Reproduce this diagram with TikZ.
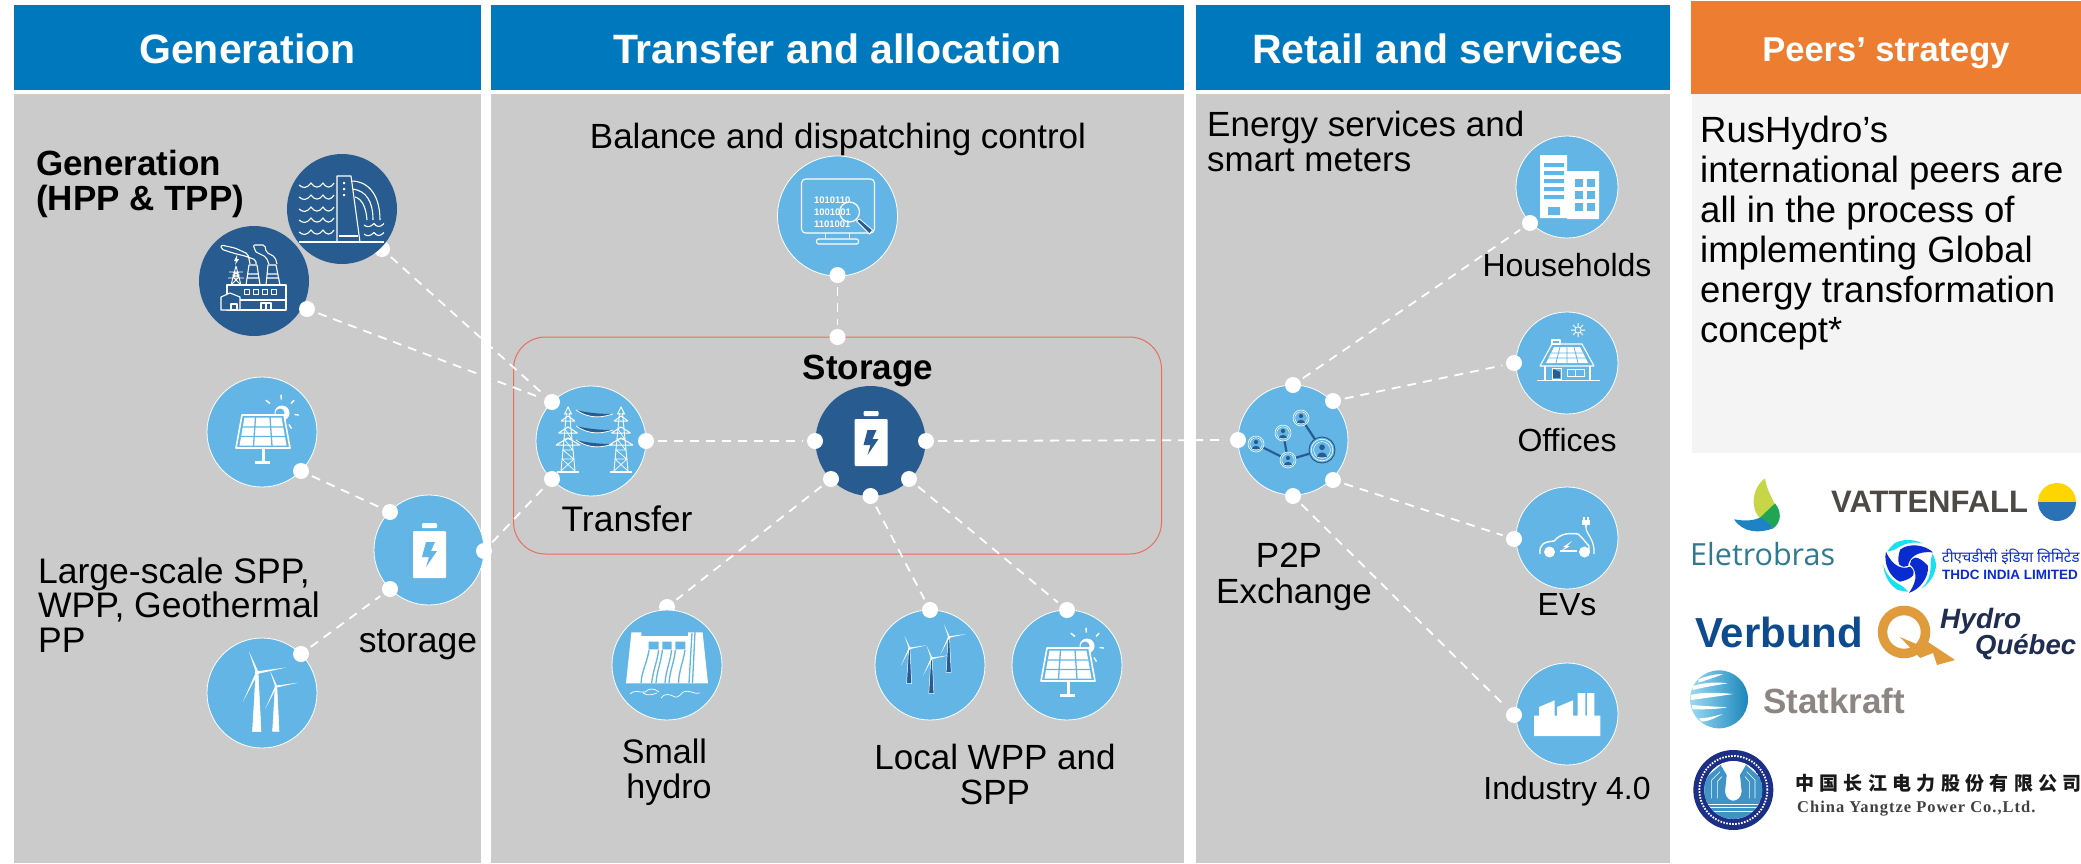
\documentclass[tikz,border=0pt]{standalone}
\usepackage{fontspec}
\setmainfont{Liberation Sans}
\newfontfamily\hindifont[Script=Devanagari]{Noto Sans}
\newfontfamily\cjkfont[LetterSpace=28]{Noto Sans CJK SC}
\newfontfamily\cyplatin[LetterSpace=6]{Liberation Serif}
\newfontfamily\opensans{Open Sans}
\usetikzlibrary{calc}
\definecolor{hdrblue}{HTML}{0078BD}
\definecolor{hdrorange}{HTML}{ED7D31}
\definecolor{panelgray}{HTML}{CBCBCB}
\definecolor{peerpanel}{HTML}{F4F4F4}
\definecolor{lb}{HTML}{62B5E5}
\definecolor{dk}{HTML}{285C91}
\definecolor{boxred}{HTML}{E4705E}
\definecolor{eleteal}{HTML}{2F7A8F}
\definecolor{leafy}{HTML}{C7D646}
\definecolor{leafg}{HTML}{1FA553}
\definecolor{leafb}{HTML}{1F82C4}
\definecolor{vatgray}{HTML}{4D4A46}
\definecolor{vaty}{HTML}{FFD500}
\definecolor{vatb}{HTML}{2A71B5}
\definecolor{thdcblue}{HTML}{0A2BD0}
\definecolor{thdccyan}{HTML}{19E0F0}
\definecolor{verblue}{HTML}{0E4B8E}
\definecolor{hqorange}{HTML}{E09B3D}
\definecolor{hqnavy}{HTML}{1F2D50}
\definecolor{statgray}{HTML}{8C8582}
\definecolor{statl}{HTML}{9ADAF2}
\definecolor{statd}{HTML}{1C86BC}
\definecolor{cypnavy}{HTML}{1C2F85}
\definecolor{cypblue}{HTML}{3F93C6}
\pgfdeclarelayer{under}
\pgfdeclarelayer{lines}
\pgfsetlayers{under,lines,main}
\newcommand\fsz[2]{\fontsize{#1}{#2}\selectfont}
\tikzset{
  hdr/.style={fill=hdrblue,text=white,font=\bfseries\fsz{41}{41},inner sep=0pt,minimum height=85pt,text height=32pt,text depth=0pt},
  body/.style={font=\fsz{35.5}{34.5},inner sep=0pt,text=black},
  smallbody/.style={font=\fsz{32}{34.5},inner sep=0pt,text=black},
  boldbody/.style={font=\bfseries\fsz{35}{34.5},inner sep=0pt,text=black},
  lightc/.style={circle,fill=lb,draw=white,line width=.8pt,inner sep=0pt,minimum size=#1},
  lightc/.default=110pt,
  darkc/.style={circle,fill=dk,inner sep=0pt,minimum size=110pt},
  dot/.style={circle,fill=white,inner sep=0pt,minimum size=16pt,outer sep=4pt},
  conn/.style={draw=white,line width=1.8pt,dash pattern=on 9pt off 7pt},
  icl/.style={draw=white,line width=1.1pt,line join=round},
  logo/.style={anchor=base west,inner sep=0pt},
  pics/solaricon/.style={code={
    \foreach \rx/\ry in {-12/-9.5,-.7/-13.5,9/-9.5,12.5/1.5,7/11.5}{\draw[white,line width=1.4pt] (20,-19)++(\rx,\ry) -- +(\rx*.35,\ry*.35);}
    \fill[white] (20,-19) circle (7.5pt);
    \fill[lb] (18,-19) circle (4.5pt);
    \draw[draw=white,line width=1.6pt,fill=lb,line join=round] (-20,-17)--(22,-17)--(28,16)--(-26,16)--cycle;
    \fill[white] (-17.5,-14.5)--(19.5,-14.5)--(24.5,13.5)--(-22.5,13.5)--cycle;
    \draw[lb,line width=1.3pt] (-19.5,-5)--(21.5,-5) (-21,4.5)--(23,4.5) (-6.5,-15)--(-8.5,14) (8,-15)--(10,14);
    \fill[white] (0,17) rectangle (2.5,30);
    \fill[white] (-7,29) rectangle (8,32);
  }},
  pics/batteryicon/.style={code={
    \fill[white,rounded corners=1pt] (-16,-19) rectangle (17,28);
    \fill[white,rounded corners=1pt] (-7,-27) rectangle (8,-22);
    \fill[#1] (-3,-8)--(6,-8)--(2,1)--(8,1)--(-3,17)--(0,7)--(-7,7)--cycle;
  }},
  pics/turbineicon/.style={code={
    \fill[#1,draw=white,line width=.5pt] (-4.5,59)--(4,59)--(1.2,2)--(-1.2,2)--cycle;
    \fill[white] (-1,0)--(-8,-21)--(1.2,-1.2)--cycle;
    \fill[white] (0,-1.2)--(29,-5)--(0,1.5)--cycle;
    \fill[white] (-1.2,0)--(-14,29)--(1,1)--cycle;
    \fill[white] (0,0) circle (2.2pt);
  }},
  pics/pylonicon/.style={code={
    \draw[white,line width=.9pt] (-1.5,-28)--(-7,30) (1.5,-28)--(7,30) (0,-34)--(-3.5,-27)--(3.5,-27)--cycle;
    \draw[white,line width=.7pt] (-6,18)--(5.8,18)--(-5,9)--(4.6,9)--(-3.9,-2)--(3.6,-2)--(-3,-12) (6,18)--(-5.8,18) (-7,30)--(6,18) (7,30)--(-6,18) (5,9)--(-4.6,9) (3.9,-2)--(-3.6,-2);
    \draw[white,line width=1pt] (-7,-20)--(7,-20)(-9.5,-8)--(9.5,-8) (-12,4)--(12,4) (-7,-20)--(0,-25)--(7,-20) (-9.5,-8)--(0,-14)--(9.5,-8) (-12,4)--(0,-3)--(12,4);
    \fill[white] (-11,30) rectangle (11,32);
  }},
  pics/personicon/.style={code={
    \draw[white,fill=lb,line width=.6pt] (0,0) circle (8pt);
    \draw[white,line width=.5pt] (0,0) circle (6.2pt);
    \fill[dk] (0,-2) circle (2.1pt);
    \fill[dk] (-4,5)..controls (-4,.8) and (4,.8)..(4,5)--cycle;
  }},
}
\begin{document}
\begin{tikzpicture}[x=1pt,y=-1pt]
\useasboundingbox (0,0) rectangle (2081,863);
\begin{pgfonlayer}{under}
  \fill[white] (0,0) rectangle (2081,863);
  \fill[panelgray] (14,94) rectangle (481,863);
  \fill[panelgray] (491,94) rectangle (1184,863);
  \fill[panelgray] (1196,94) rectangle (1670,863);
  \fill[peerpanel] (1692,94) rectangle (2081,453);
  \draw[boxred,line width=1pt,rounded corners=32pt] (513.5,337) rectangle (1161.5,554);
\end{pgfonlayer}
% headers
\node[hdr,minimum width=467pt] (h1) at (247.5,47.5) {Generation};
\node[hdr,minimum width=693pt] (h2) at (837.5,47.5) {Transfer and allocation};
\node[hdr,minimum width=474pt] (h3) at (1433,47.5) {\hspace*{10pt}Retail and services};
\node[hdr,fill=hdrorange,font=\bfseries\fsz{34.5}{34},minimum width=390pt,minimum height=93pt,text height=27pt] (h4) at (1886,47.5) {Peers’ strategy};
% dots partly hidden by their circles
\node[dot] (dhydro) at (382,249) {};
\node[dot] (dsmall) at (667,607) {};
% circles
\node[darkc] (tpp) at (254,281) {};
\node[darkc] (hydro) at (342,209) {};
\node[lightc] (sol1) at (262,432) {};
\node[lightc] (sto1) at (429,550) {};
\node[lightc] (win1) at (262,693) {};
\node[lightc=120pt] (bal) at (837.5,216) {};
\node[lightc] (tra) at (591,441) {};
\node[darkc] (sto2) at (870.5,441) {};
\node[lightc] (small) at (667,665) {};
\node[lightc] (win2) at (930,665) {};
\node[lightc] (sol2) at (1067,665) {};
\node[lightc] (p2p) at (1293,440) {};
\node[lightc=102pt] (hou) at (1567,187) {};
\node[lightc=102pt] (off) at (1567,363) {};
\node[lightc=102pt] (ev) at (1567,538) {};
\node[lightc=102pt] (ind) at (1567,714) {};
% dots
\node[dot] (dtpp) at (307,309) {};
\node[dot] (dsol1) at (301,471) {};
\node[dot] (dwin1) at (301,654) {};
\node[dot] (dsto1a) at (390,512) {};
\node[dot] (dsto1b) at (390,589) {};
\node[dot] (dsto1c) at (484,551) {};
\node[dot] (dbal) at (837.5,275) {};
\node[dot] (dtop) at (837.5,337) {};
\node[dot] (dtraa) at (552,402) {};
\node[dot] (dtrab) at (646,441) {};
\node[dot] (dtrac) at (552,479) {};
\node[dot] (dstoa) at (815,441) {};
\node[dot] (dstob) at (926,441) {};
\node[dot] (dstoc) at (831,479) {};
\node[dot] (dstod) at (870.5,496) {};
\node[dot] (dstoe) at (909,479) {};
\node[dot] (dwin2) at (930,610) {};
\node[dot] (dsol2) at (1067,610) {};
\node[dot] (dpa) at (1238,440) {};
\node[dot] (dpb) at (1293,385) {};
\node[dot] (dpc) at (1333,401) {};
\node[dot] (dpd) at (1333,480) {};
\node[dot] (dpe) at (1293,496) {};
\node[dot] (dhou) at (1530,223) {};
\node[dot] (doff) at (1514,363) {};
\node[dot] (dev) at (1514,539) {};
\node[dot] (dind) at (1514,715) {};
% connectors
\begin{pgfonlayer}{lines}
  \draw[conn] (dhydro) -- (dtraa);
  \draw[conn] (dtpp) -- (dtraa);
  \draw[conn] (dsol1) -- (dsto1a);
  \draw[conn] (dwin1) -- (dsto1b);
  \draw[conn] (dsto1c) -- (dtrac);
  \draw[conn] (dbal) -- (dtop);
  \draw[conn] (dtrab) -- (dstoa);
  \draw[conn] (dstob) -- (dpa);
  \draw[conn] (dstoc) -- (dsmall);
  \draw[conn] (dstod) -- (dwin2);
  \draw[conn] (dstoe) -- (dsol2);
  \draw[conn] (dpb) -- (dhou);
  \draw[conn] (dpc) -- (doff);
  \draw[conn] (dpd) -- (dev);
  \draw[conn] (dpe) -- (dind);
\end{pgfonlayer}
% texts
\node[boldbody,anchor=base west,align=left] (tgen) at (36,210) {Generation\\(HPP \& TPP)};
\node[body,anchor=base west,align=left] (tlarge) at (38,652) {Large-scale SPP,\\WPP, Geothermal\\PP};
\node[body,anchor=base] (tsto1) at (418,652) {storage};
\node[body,font=\fsz{35}{35},anchor=base] (tbal) at (838,148) {Balance and dispatching control};
\node[boldbody,anchor=base] (tsto2) at (868,379) {Storage};
\node[body,anchor=base] (ttra) at (627,531) {Transfer};
\node[body,font=\fsz{34}{35},anchor=base] (tsmall) at (664.5,763) {Small};
\node[body,font=\fsz{34}{35},anchor=base] (thydro) at (669,798) {hydro};
\node[body,font=\fsz{35}{34.5},anchor=base,align=center] (tlocal) at (995,804) {Local WPP and\\SPP};
\node[body,font=\fsz{35}{34.5},anchor=base west,align=left] (tenergy) at (1207,171) {Energy services and\\smart meters};
\node[smallbody,anchor=base] (thou) at (1567,276) {Households};
\node[smallbody,anchor=base] (toff) at (1567,451) {Offices};
\node[smallbody,anchor=base] (tev) at (1567,615) {EVs};
\node[smallbody,anchor=base] (tind) at (1567,799) {Industry 4.0};
\node[body,font=\fsz{35}{35},anchor=base] (tp2p) at (1289,567) {P2P};
\node[body,font=\fsz{35}{35},anchor=base] (texch) at (1294,603) {Exchange};
\node[inner sep=0pt,anchor=base west,align=left,font=\fsz{36.5}{40}] (tpeer) at (1700,342) {RusHydro’s\\international peers are\\all in the process of\\implementing Global\\energy transformation\\concept*};
% icons
\begin{scope}[shift={(hydro)}]
  \draw[icl] (-43,33)--(42,33);
  \draw[icl] (-5,33)--(-5,-33)--(9,-33)--(18,33);
  \draw[icl] (-3,27)--(16,27);
  \fill[white] (1,-27) rectangle (3,-25) (1,-21) rectangle (3,-19) (1,-15) rectangle (3,-13);
  \draw[icl] (9,-28) .. controls (28,-28) and (38,-12) .. (38,11);
  \draw[icl] (11,-20) .. controls (24,-18) and (31,-8) .. (31,11);
  \draw[icl] (13,-12) .. controls (20,-10) and (24,-2) .. (25,11);
  \foreach \yy in {-24,-12,0,11,23}{
    \draw[icl] (-43,\yy) .. controls (-39,\yy+3.5) and (-35,\yy+3.5) .. (-31,\yy-2) .. controls (-27,\yy+3.5) and (-23,\yy+3.5) .. (-19,\yy-2) .. controls (-15,\yy+3.5) and (-12,\yy+3.5) .. (-8,\yy-2);
  }
  \foreach \yy in {16,25}{
    \draw[icl] (22,\yy) .. controls (25,\yy+2.5) and (28,\yy+2.5) .. (32,\yy-1.5) .. controls (35,\yy+2.5) and (38,\yy+2.5) .. (42,\yy-1.5);
  }
\end{scope}
\begin{scope}[shift={(tpp)}]
  \draw[icl] (-27,4) rectangle (32,29);
  \draw[icl,fill=dk] (-33,29)--(-33,16)--(-24,12)--(-14,16)--(-14,29)--cycle;
  \draw[icl] (-23,23) rectangle (-17,29);
  \draw[icl] (-14,19)--(32,19);
  \draw[icl] (7,22) rectangle (17,29) (12,22)--(12,29);
  \foreach \xx in {-7,2,11,20}{\draw[icl] (\xx-2.2,8.8) rectangle (\xx+2.2,13.2);}
  \draw[icl] (-8,4)--(-5,-16)--(3,-16)--(6,4) (-6.5,-7)--(4.5,-7) (-7,-3)--(5,-3);
  \draw[icl] (12,4)--(14,-16)--(22,-16)--(26,4) (13,-7)--(24,-7) (12.5,-3)--(25,-3);
  \draw[icl,rounded corners=2pt] (-4,-17)--(-6,-27)--(-19,-33)--(-33,-36)--(-33,-32)--(-21,-28)--(-9,-25)--(2,-21)--(2,-17);
  \draw[icl,rounded corners=2pt] (2,-29)--(-1,-36)--(11,-36)--(12,-29)--(21,-24)--(23,-17) (15,-17)--(12,-24)--(2,-29);
  \draw[white,line width=.9pt] (-18,-15)--(-23,4) (-18,-15)--(-13,4) (-23,4)--(-15,-4)--(-21,-6)--(-15,-9) (-13,4)--(-21,-4)--(-15,-6)--(-21,-9) (-25,-9)--(-11,-9) (-26,-3)--(-10,-3);
  \fill[white] (-17,-26)--(-20,-20)--(-18,-20)--(-19,-16)--(-15,-22)--(-17,-22)--cycle;
\end{scope}
\pic at (sol1) {solaricon};
\pic at (sol2) {solaricon};
\pic at (sto1) {batteryicon=lb};
\pic at ($(sto2)+(0,-3)$) {batteryicon=dk};
\pic at ($(win1)+(-5,-20.5)$) {turbineicon=white};
\pic[scale=.76] at ($(win1)+(14,-6.5)$) {turbineicon=white};
\pic[scale=.6] at ($(win2)+(-20.7,-16.7)$) {turbineicon=dk};
\pic[scale=.6] at ($(win2)+(1.5,-6.7)$) {turbineicon=dk};
\pic[scale=.6] at ($(win2)+(18.8,-28)$) {turbineicon=dk};
% monitor
\begin{scope}[shift={(bal)}]
  \draw[icl,rounded corners=4pt] (-36,-37) rectangle (37,17);
  \draw[icl] (-12,17)--(-12,22) (12,17)--(12,22);
  \draw[icl,rounded corners=2pt] (-21,23) rectangle (21,28);
  \node[font=\bfseries\fsz{9.5}{12},text=white,inner sep=0pt,anchor=center,align=left] (tbin) at (-5,-4) {1010110\\1001001\\1101001};
  \draw[white,line width=1.2pt] (12,-4) circle (10pt);
  \draw[white,fill=dk,line width=.8pt] (19,5)--(22,3)--(35,14)--(32,18)--cycle;
\end{scope}
% transfer
\begin{scope}[shift={(tra)}]
  \foreach \yy in {0,16,30}{
    \fill[dk] (-15,\yy-31) .. controls (-3,\yy-28) and (10,\yy-27) .. (22,\yy-27) .. controls (12,\yy-24) and (0,\yy-21) .. (-15,\yy-31);
    \draw[white,line width=.8pt] (22,\yy-27) .. controls (12,\yy-24) and (0,\yy-21) .. (-15,\yy-31);
  }
\end{scope}
\pic at ($(tra)+(-23,0)$) {pylonicon};
\pic at ($(tra)+(30,0)$) {pylonicon};
% small hydro
\begin{scope}[shift={(small)}]
  \fill[white] (-35.6,-32.7)--(-25.6,-32.7)--(-25.6,-29)--(21,-29)--(21,-32.7)--(35.6,-32.7)--(41,18.3)--(-41,18.3)--cycle;
  \fill[lb] (-18.4,-23.3) rectangle (-8.4,-15.7) (-4.6,-23.3) rectangle (4.6,-15.7) (8.4,-23.3) rectangle (18.4,-15.7);
  \draw[lb,line width=1.3pt] (-18,-15) .. controls (-20,-2) and (-25,5) .. (-26,18) (-8.4,-15) .. controls (-10,-2) and (-14,5) .. (-15.3,18) (-4.6,-15) .. controls (-6,-2) and (-10,5) .. (-11,18) (4.6,-15) .. controls (3,-2) and (-1,5) .. (-2,18) (8.4,-15) .. controls (7,-2) and (3,5) .. (2,18) (18,-15) .. controls (16,-2) and (12,5) .. (11.5,18) (25,-32) -- (22,18) (28,-33) -- (25.5,18);
  \draw[white,line width=.7pt] (-37,29) .. controls (-32,24) and (-27,28) .. (-22,27) .. controls (-18,23) and (-13,23) .. (-8,27) (-6,33) .. controls (-3,28) and (3,29) .. (8,32) .. controls (12,33) and (13,29) .. (16,27) .. controls (22,24) and (28,30) .. (33,28) (-24,28) .. controls (-20,31) and (-15,30) .. (-10,28);
\end{scope}
% people
\begin{scope}[shift={(p2p)}]
  \draw[dk,line width=2.2pt] (-37,4)--(-5,20) (-10,-7)--(-5,20) (-5,20)--(29,10) (8,-22)--(29,10);
  \pic at (-37,4) {personicon};
  \pic at (-10,-7) {personicon};
  \pic at (8,-22) {personicon};
  \pic at (-5,20) {personicon};
  \draw[dk,line width=1pt,fill=lb] (29,10) circle (13pt);
  \pic[scale=1.35] at (29,10) {personicon};
\end{scope}
% building
\begin{scope}[shift={(hou)}]
  \fill[white] (-27,-32) rectangle (0,31) (0,-16) rectangle (32,32);
  \fill[lb] (-23,-24) rectangle (-3,-20) (-23,-16) rectangle (-3,-12) (-23,-8) rectangle (-3,-4) (-23,0) rectangle (-3,4) (-23,8) rectangle (-3,12) (-19,20) rectangle (-7,28);
  \foreach \xx in {8,20}{\foreach \yy in {-8,4,16}{\fill[lb] (\xx,\yy) rectangle (\xx+8,\yy+8);}}
\end{scope}
% house
\begin{scope}[shift={(off)}]
  \draw[icl] (-15,-23) rectangle (-7,-19);
  \draw[icl,line join=round] (-15,-19)--(15,-19)--(27,3)--(-27,3)--cycle;
  \fill[white] (-13,-16)--(13,-16)--(21,0)--(-21,0)--cycle;
  \draw[lb,line width=.8pt] (-16,-10)--(16,-10) (-19,-5)--(19,-5) (-7,-16)--(-11,0) (0,-16)--(0,0) (7,-16)--(11,0);
  \draw[icl] (-22,3)--(-22,17) (23,3)--(23,17) (-30,17.5)--(33,17.5);
  \draw[icl,line width=.8pt] (-15,5) rectangle (-6,16) (0,6) rectangle (17,13) (8.5,6)--(8.5,13);
  \fill[dk] (-14,6)--(-7,9)--(-7,15)--(-14,15)--cycle;
  \draw[white,line width=1pt] (4,-33)--(18,-33) (11,-40)--(11,-26) (6,-38)--(16,-28) (16,-38)--(6,-28);
  \fill[lb] (11,-33) circle (3pt);
  \draw[white,line width=.7pt] (11,-33) circle (3pt);
\end{scope}
% EV
\begin{scope}[shift={(ev)}]
  \draw[icl,line width=1.4pt] (-27,16) .. controls (-28,6) and (-23,4) .. (-13,3) .. controls (-6,-5) and (2,-5) .. (11,-4) .. controls (16,0) and (18,4) .. (22,8) -- (22,15);
  \draw[white,line width=1.2pt] (-7,13)--(10,13);
  \fill[white] (-17.5,14) circle (5.5pt) (17.5,14) circle (5.5pt);
  \fill[white] (5,3)--(-4,9)--(-1,9)--(-7,14)--(3,8)--(0,8)--cycle;
  \draw[icl,line width=1.2pt] (19,-12) .. controls (18,-4) and (28,0) .. (27,16);
  \fill[white] (15,-18) rectangle (23,-13);
  \draw[white,line width=1.2pt] (17,-18)--(17,-21) (21,-18)--(21,-21) (19,-13)--(19,-11);
\end{scope}
% factory
\begin{scope}[shift={(ind)}]
  \fill[white] (-33,22)--(-33,1.7)--(-28,1.7)--(-28,-7)--(-12.3,-13.7)--(-12.3,1.7)--(-10,1.7)--(-10,-7)--(6,-13.7)--(6,1.7)--(10.7,1.7)--(10.7,-21)--(18.3,-21)--(18.3,1.7)--(20,1.7)--(20,-21)--(27.3,-21)--(27.3,1.7)--(33.3,1.7)--(33.3,22)--cycle;
\end{scope}
% logos, upper group
\begin{scope}[shift={(1680,450)},x=.33333pt,y=-.33333pt]
  \fill[leafy] (255,85) .. controls (260,120) and (275,140) .. (285,165) -- (240,205) .. controls (210,175) and (215,115) .. (255,85);
  \fill[leafg] (285,160) .. controls (305,185) and (305,215) .. (280,235) .. controls (265,215) and (250,210) .. (238,205) -- cycle;
  \fill[leafb] (162,208) .. controls (200,215) and (225,210) .. (240,203) .. controls (255,210) and (270,220) .. (280,235) .. controls (240,250) and (190,250) .. (162,208);
  \foreach \aa in {0,120,240}{
    \begin{scope}[shift={(688,347)},rotate=\aa]
      \fill[thdcblue] (-70,-42) .. controls (-78,-10) and (-60,35) .. (-28,48) .. controls (-12,45) and (5,38) .. (12,28) .. controls (15,15) and (10,8) .. (2,3) .. controls (-18,12) and (-50,5) .. (-70,-42);
      \fill[thdccyan] (-78,-2) .. controls (-76,28) and (-60,58) .. (-36,72) .. controls (-28,74) and (-16,78) .. (-4,78) .. controls (-14,66) and (-22,60) .. (-34,54) .. controls (-58,40) and (-72,20) .. (-78,-2);
    \end{scope}
  }
\end{scope}
\begin{scope}
  \clip (2057,502) circle (19pt);
  \fill[vaty] (2038,483) rectangle (2076,502);
  \fill[vatb] (2038,502) rectangle (2076,521);
\end{scope}
\node[logo,font=\opensans\fsz{30.5}{30},text=eleteal] (lele) at (1690,565) {Eletrobras};
\node[logo,font=\bfseries\fsz{31}{31},text=vatgray] (lvat) at (1831,512) {VATTENFALL};
\node[logo,font=\hindifont\bfseries\fsz{15}{16},text=thdcblue] (lhin) at (1942,562) {टीएचडीसी इंडिया लिमिटेड};
\node[logo,font=\bfseries\fsz{13.5}{14},text=thdcblue] (lthdc) at (1942,579) {THDC INDIA LIMITED};
\node[logo,font=\bfseries\fsz{42}{42},text=verblue] (lver) at (1695,647) {Verbund};
\node[logo,font=\bfseries\itshape\fsz{28}{28},text=hqnavy] (lhyd) at (1940,628) {Hydro};
\node[logo,font=\bfseries\itshape\fsz{27.5}{28},text=hqnavy] (lque) at (1975,654) {Québec};
\draw[hqorange,line width=9.5pt] (1904,632) circle (21.5pt);
\fill[hqorange] (1900,637)--(1923,647)--(1928,642)--(1955,660)--(1937,665)--(1933,653)--(1920,658)--cycle;
\node[logo,font=\bfseries\fsz{35}{35},text=statgray] (lsta) at (1763,713) {Statkraft};
\begin{scope}[shift={(1680,650)},x=.33333pt,y=-.33333pt]
  \begin{scope}
    \clip (117,148) circle (29pt);
    \shade[left color=statl,right color=statd] (117,148) circle (29pt);
    \fill[white] (32,135) .. controls (70,125) and (120,128) .. (160,132) .. controls (120,138) and (70,145) .. (32,150) -- cycle;
    \fill[white] (55,88) .. controls (80,78) and (105,72) .. (130,72) .. controls (105,82) and (80,90) .. (55,98) -- cycle;
    \fill[white] (38,108) .. controls (70,98) and (110,95) .. (143,100) .. controls (110,105) and (70,112) .. (38,120) -- cycle;
    \fill[white] (35,165) .. controls (70,168) and (110,170) .. (142,172) .. controls (110,178) and (70,178) .. (38,178) -- cycle;
    \fill[white] (55,205) .. controls (80,205) and (105,198) .. (128,192) .. controls (105,205) and (80,215) .. (65,215) -- cycle;
  \end{scope}
  \fill[cypnavy] (160,420) circle (40pt);
  \draw[white,line width=1.8pt,dash pattern=on 1.6pt off 1.4pt] (160,420) circle (34pt);
  \begin{scope}
    \clip (160,420) circle (29pt);
    \fill[white] (160,420) circle (29pt);
    \fill[cypblue] (70,455)--(70,390)--(122,345)--(140,375)--(135,425) .. controls (137,445) and (150,452) .. (160,452) .. controls (170,452) and (183,445) .. (185,425) -- (180,375) -- (198,345) -- (250,390) -- (250,455) -- (250,510) -- (70,510) -- cycle;
    \draw[white,line width=.6pt] (95,445)--(95,390)--(120,365) (112,445)--(112,395)--(125,380) (225,445)--(225,390)--(200,365) (208,445)--(208,395)--(195,380);
    \draw[white,line width=.7pt] (80,462)--(240,462) (80,472)--(240,472) (80,484)--(240,484);
  \end{scope}
\end{scope}
\node[logo,font=\cjkfont\bfseries\fsz{19}{19},text=black!90] (lcjk) at (1795,790) {中国长江电力股份有限公司};
\node[logo,font=\cyplatin\bfseries\fsz{16.5}{16},text=black!75] (lcyp) at (1797,812) {China Yangtze Power Co.,Ltd.};
\end{tikzpicture}
\end{document}
